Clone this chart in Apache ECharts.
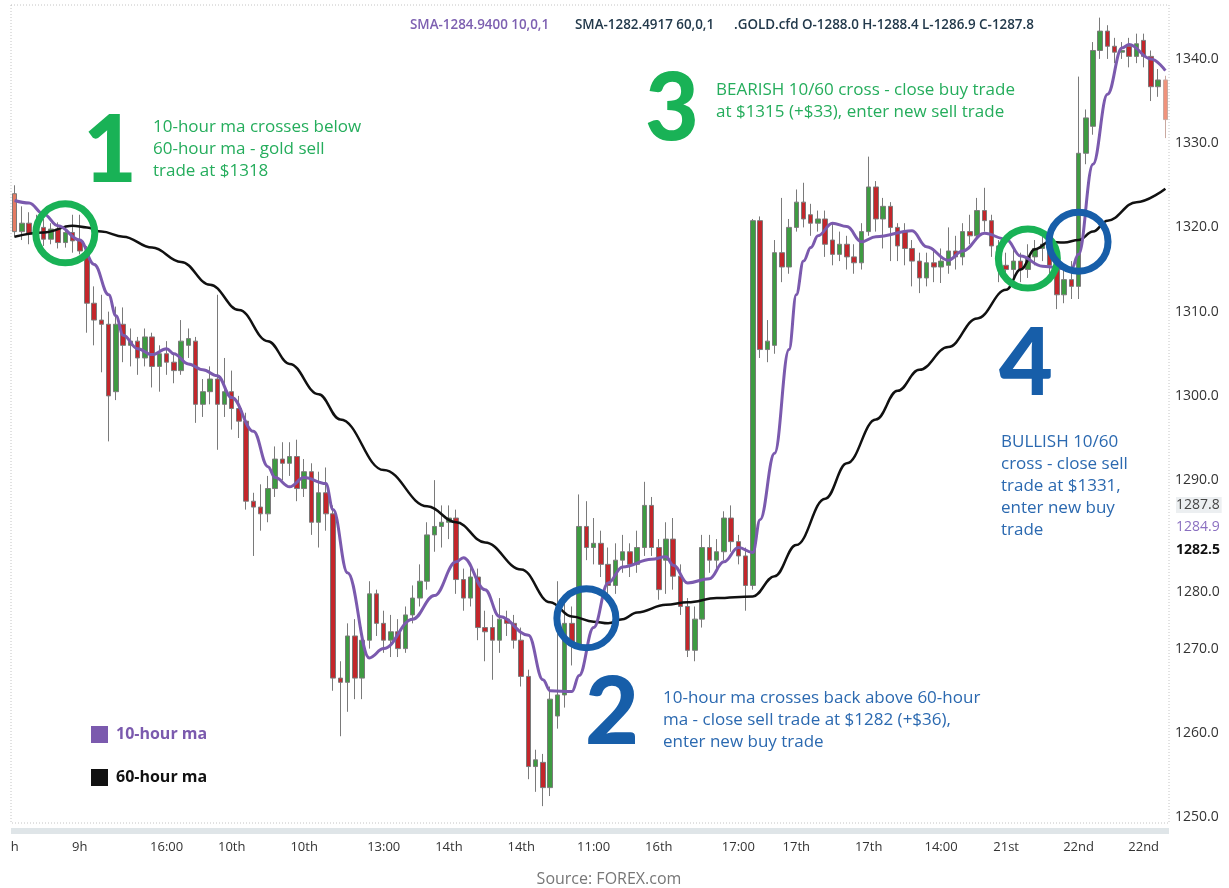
<!DOCTYPE html>
<html lang="en">
<head>
    <meta charset="UTF-8">
    <title>Gold 10/60 hour moving average crosses</title>
    <script src="https://cdn.jsdelivr.net/npm/echarts@6.0.0/dist/echarts.min.js"></script>
    <style>
        body { margin: 0; background: #fff; }
        #main { width: 1229px; height: 888px; }
    </style>
</head>
<body>
<div id="main"></div>
<script>
    // hourly gold candles
    var opens = [
        1324.0, 1319.5, 1320.5, 1319.2, 1320.0, 1318.6, 1319.8, 1318.2, 1319.4, 1318.4,
        1317.2, 1311.0, 1309.0, 1308.5, 1300.5, 1308.5, 1306.0, 1306.5, 1304.5, 1307.0,
        1303.5, 1305.0, 1304.0, 1303.0, 1306.0, 1306.5, 1299.0, 1300.5, 1302.0, 1299.0,
        1300.5, 1298.5, 1297.0, 1287.5, 1286.8, 1286.0, 1289.0, 1292.5, 1292.0, 1292.8,
        1289.0, 1291.0, 1285.0, 1288.5, 1286.0, 1266.5, 1266.0, 1271.5, 1266.5, 1271.0,
        1276.5, 1273.0, 1271.0, 1272.0, 1270.0, 1274.0, 1276.0, 1278.0, 1283.5, 1284.5,
        1285.0, 1285.5, 1278.2, 1276.0, 1278.5, 1272.5, 1272.5, 1271.0, 1273.5, 1273.0,
        1271.0, 1266.7, 1256.0, 1256.5, 1253.5, 1262.0, 1264.5, 1273.0, 1270.5, 1284.5,
        1282.0, 1282.5, 1280.0, 1277.5, 1280.5, 1281.5, 1280.0, 1282.0, 1287.0, 1282.0,
        1280.5, 1283.0, 1278.6, 1275.0, 1269.8, 1273.5, 1282.0, 1280.5, 1281.5, 1285.5,
        1282.7, 1281.0, 1277.5, 1320.8, 1305.5, 1306.0, 1317.0, 1315.3, 1320.0, 1323.0,
        1321.5, 1320.5, 1321.0, 1318.5, 1316.8, 1318.0, 1316.5, 1315.8, 1319.5, 1324.8,
        1321.0, 1322.5, 1320.0, 1319.5, 1317.5, 1316.0, 1314.0, 1315.8, 1315.3, 1315.5,
        1317.2, 1316.5, 1319.5, 1319.0, 1322.0, 1320.8, 1317.8, 1315.5, 1315.0, 1316.0,
        1315.0, 1316.5, 1317.5, 1318.0, 1315.5, 1312.0, 1313.8, 1313.0, 1328.8, 1332.0,
        1341.0, 1343.3, 1341.5, 1340.8, 1341.5, 1340.3, 1342.2, 1340.3, 1336.7, 1337.5
    ];
    var closes = [
        1319.5, 1320.5, 1319.2, 1320.0, 1318.6, 1319.8, 1318.2, 1319.4, 1318.4, 1317.2,
        1311.0, 1309.0, 1308.5, 1300.0, 1308.5, 1306.0, 1306.5, 1304.5, 1307.0, 1303.5,
        1305.0, 1304.0, 1303.0, 1306.5, 1306.8, 1299.0, 1300.5, 1302.0, 1299.0, 1300.5,
        1298.5, 1297.0, 1287.5, 1286.8, 1286.0, 1289.0, 1292.5, 1292.0, 1292.8, 1289.0,
        1291.0, 1285.0, 1288.5, 1286.0, 1266.5, 1266.0, 1271.5, 1266.5, 1271.0, 1276.5,
        1273.0, 1271.0, 1272.0, 1270.0, 1274.0, 1276.0, 1278.0, 1283.5, 1284.5, 1285.0,
        1285.5, 1278.2, 1276.0, 1278.5, 1272.5, 1272.0, 1271.0, 1273.5, 1273.0, 1271.0,
        1266.7, 1256.0, 1256.8, 1253.5, 1264.0, 1264.5, 1273.0, 1270.5, 1284.5, 1282.0,
        1282.5, 1280.0, 1277.5, 1280.5, 1281.5, 1280.0, 1282.0, 1287.0, 1282.0, 1277.0,
        1283.0, 1278.6, 1275.0, 1269.8, 1273.5, 1282.0, 1280.5, 1281.5, 1285.5, 1282.7,
        1281.0, 1277.5, 1320.8, 1305.5, 1306.5, 1317.0, 1315.3, 1320.0, 1323.0, 1321.0,
        1320.5, 1321.0, 1318.0, 1316.8, 1318.0, 1316.5, 1315.8, 1319.5, 1324.8, 1321.0,
        1322.5, 1320.0, 1317.8, 1317.5, 1316.0, 1314.0, 1315.8, 1315.3, 1316.0, 1317.2,
        1316.5, 1319.5, 1319.0, 1322.0, 1320.8, 1317.8, 1315.5, 1315.0, 1316.0, 1315.0,
        1316.5, 1317.5, 1318.0, 1315.5, 1312.0, 1313.8, 1313.0, 1328.8, 1333.0, 1341.0,
        1343.3, 1341.5, 1340.8, 1341.0, 1340.3, 1341.8, 1340.3, 1336.7, 1337.5, 1332.8
    ];
    var lows = [
        1318.8, 1318.5, 1318.0, 1318.5, 1317.8, 1318.0, 1317.5, 1317.6, 1317.0, 1316.8,
        1307.5, 1306.0, 1302.8, 1294.6, 1299.5, 1304.0, 1303.5, 1302.5, 1303.5, 1301.0,
        1300.5, 1302.5, 1301.5, 1302.5, 1304.5, 1296.8, 1297.5, 1299.0, 1293.6, 1297.5,
        1296.0, 1295.0, 1286.5, 1281.0, 1284.0, 1285.0, 1288.0, 1290.0, 1290.5, 1287.5,
        1288.0, 1283.5, 1282.0, 1284.0, 1265.0, 1259.6, 1262.5, 1264.0, 1264.0, 1270.0,
        1271.5, 1269.5, 1269.0, 1269.0, 1269.5, 1273.0, 1275.0, 1277.0, 1281.5, 1282.0,
        1283.0, 1276.5, 1274.5, 1275.0, 1271.0, 1268.5, 1266.3, 1269.5, 1271.5, 1270.0,
        1265.5, 1254.5, 1253.0, 1251.3, 1252.5, 1260.5, 1263.0, 1268.0, 1270.0, 1280.5,
        1280.0, 1278.5, 1276.5, 1276.5, 1279.0, 1278.5, 1279.0, 1281.0, 1281.0, 1275.8,
        1276.5, 1277.0, 1274.0, 1269.0, 1268.5, 1272.5, 1279.0, 1279.5, 1280.5, 1281.5,
        1280.0, 1274.5, 1277.0, 1304.5, 1304.0, 1305.0, 1313.5, 1314.5, 1319.5, 1320.0,
        1319.0, 1319.5, 1316.5, 1315.5, 1316.0, 1315.0, 1314.5, 1315.0, 1319.0, 1319.5,
        1317.5, 1316.0, 1316.0, 1315.5, 1313.0, 1312.2, 1313.0, 1313.5, 1313.4, 1314.5,
        1315.0, 1315.5, 1318.0, 1318.5, 1319.5, 1316.5, 1313.5, 1313.5, 1314.0, 1313.5,
        1314.0, 1315.5, 1316.0, 1314.5, 1310.3, 1311.0, 1311.5, 1311.5, 1327.5, 1331.0,
        1340.0, 1340.0, 1339.5, 1340.0, 1339.0, 1339.5, 1339.0, 1335.0, 1335.5, 1330.6
    ];
    var highs = [
        1325.0, 1322.5, 1321.8, 1321.5, 1321.0, 1320.5, 1320.6, 1320.2, 1321.5, 1321.5,
        1317.8, 1313.0, 1312.0, 1310.0, 1310.6, 1310.5, 1308.0, 1307.0, 1308.0, 1307.5,
        1306.0, 1306.5, 1305.0, 1309.0, 1308.0, 1307.0, 1302.0, 1303.5, 1312.0, 1304.5,
        1303.0, 1300.0, 1298.0, 1288.5, 1289.5, 1290.5, 1294.0, 1294.5, 1294.5, 1294.8,
        1292.5, 1292.0, 1291.0, 1291.5, 1287.0, 1268.5, 1273.0, 1273.5, 1272.5, 1278.0,
        1277.0, 1274.5, 1274.0, 1273.5, 1275.0, 1277.5, 1280.0, 1285.0, 1290.0, 1287.0,
        1287.0, 1286.5, 1279.5, 1280.0, 1279.5, 1274.5, 1274.0, 1276.0, 1274.5, 1274.0,
        1272.5, 1267.5, 1258.0, 1257.5, 1265.5, 1278.0, 1276.0, 1275.0, 1288.3, 1287.5,
        1285.5, 1284.0, 1282.0, 1282.5, 1283.5, 1282.5, 1284.0, 1289.8, 1288.0, 1283.0,
        1285.0, 1285.5, 1280.0, 1276.0, 1275.0, 1283.5, 1283.5, 1283.0, 1286.3, 1287.0,
        1283.5, 1282.0, 1321.0, 1321.3, 1309.0, 1318.5, 1323.5, 1321.0, 1324.5, 1325.3,
        1322.8, 1322.0, 1322.0, 1320.5, 1319.5, 1319.0, 1318.0, 1320.5, 1328.4, 1325.5,
        1323.5, 1323.0, 1320.5, 1320.5, 1318.5, 1317.0, 1317.0, 1317.5, 1317.5, 1320.0,
        1319.0, 1320.5, 1321.5, 1323.5, 1324.7, 1321.5, 1318.5, 1317.0, 1317.5, 1317.0,
        1318.0, 1318.5, 1319.0, 1319.0, 1316.0, 1315.0, 1316.0, 1337.9, 1334.0, 1342.0,
        1344.9, 1344.0, 1342.5, 1342.0, 1342.5, 1343.0, 1343.0, 1341.0, 1338.8, 1338.0
    ];

    // moving averages as [candle index, price]
    var ma10 = [
        [0, 1323.2], [2, 1322.9], [4, 1321.6], [6, 1320.2], [9, 1318.5], [11, 1315.6], [13, 1312.0],
        [14, 1309.5], [15, 1307.2], [17, 1305.6], [19, 1304.9], [21, 1305.6], [22, 1305.0], [24, 1303.8],
        [26, 1303.1], [28, 1302.4], [30, 1299.8], [33, 1295.8], [35, 1291.6], [36, 1290.3], [38, 1289.2],
        [40, 1290.3], [43, 1289.6], [44, 1286.5], [46, 1279.0], [49, 1268.9], [51, 1270.0], [55, 1273.5],
        [58, 1276.3], [61, 1280.3], [62, 1280.8], [65, 1277.0], [67, 1273.8], [71, 1271.6], [73, 1266.3],
        [74, 1265.0], [77, 1264.9], [78, 1266.8], [80, 1272.5], [82, 1277.8], [84, 1279.7], [88, 1280.6],
        [90, 1280.9], [91, 1279.9], [93, 1277.8], [96, 1278.3], [98, 1280.3], [100, 1282.0], [102, 1281.4],
        [103, 1285.3], [105, 1293.2], [107, 1305.5], [108, 1312.0], [109, 1316.0], [110, 1317.6], [111, 1319.0],
        [113, 1320.5], [115, 1320.1], [117, 1318.3], [119, 1318.9], [124, 1319.6], [126, 1317.7], [129, 1316.1],
        [131, 1317.2], [134, 1319.3], [137, 1318.6], [139, 1316.6], [142, 1315.4], [146, 1315.0], [147, 1316.8],
        [149, 1327.5], [151, 1335.8], [153, 1341.3], [154, 1341.7], [157, 1340.0], [159, 1338.6]
    ];
    var ma60 = [
        [0, 1318.9], [4, 1319.4], [8, 1320.2], [10, 1320.0], [12, 1319.5], [15, 1318.9], [19, 1317.6],
        [23, 1315.9], [27, 1313.2], [31, 1310.2], [35, 1306.5], [38, 1303.8], [42, 1300.2], [45, 1297.2],
        [51, 1291.2], [57, 1286.9], [61, 1285.0], [65, 1282.6], [70, 1279.4], [74, 1275.5], [77, 1273.8],
        [80, 1273.2], [82, 1273.0], [84, 1273.5], [86, 1274.3], [90, 1275.2], [93, 1275.5], [97, 1276.0],
        [102, 1276.2], [105, 1278.6], [108, 1282.3], [112, 1287.8], [115, 1292.0], [119, 1297.2], [122, 1300.6],
        [125, 1303.1], [129, 1305.8], [133, 1309.2], [137, 1312.6], [139, 1315.0], [141, 1317.4], [143, 1318.3],
        [145, 1318.2], [147, 1318.5], [149, 1319.5], [151, 1320.8], [155, 1323.0], [159, 1324.6]
    ];

    // cross markers
    var sellCross = [[7, 1319.3], [140, 1316.3]];
    var buyCross = [[79, 1273.6], [147, 1318.3]];

    var tickIdx = [0, 9, 21, 30, 40, 51, 60, 70, 80, 89, 100, 108, 118, 128, 137, 147, 156];
    var tickText = ['h', '9h', '16:00', '10th', '10th', '13:00', '14th', '14th', '11:00', '16th',
        '17:00', '17th', '17th', '14:00', '21st', '22nd', '22nd'];
    var priceTicks = [1250, 1260, 1270, 1290, 1300, 1310, 1320, 1330, 1340];

    var GREEN = '#19b256', BLUE = '#175ea9', PURPLE = '#7b5aae';
    var FONT = "'Open Sans', Lato, sans-serif";

    var cats = opens.map(function (v, i) { return String(i); });
    var candles = opens.map(function (o, i) {
        return [o, closes[i], lows[i], highs[i]];
    });
    // first and last bars are shaded lighter in the source
    candles[0] = { value: candles[0], itemStyle: { color0: '#e57b63' } };
    candles[159] = { value: candles[159], itemStyle: { color0: '#f0937c', borderColor0: '#c9a9a0' } };

    function note(x, y, text, color) {
        return {
            type: 'text', x: x, y: y, silent: true,
            style: { text: text, fill: color, font: '17px ' + FONT, lineHeight: 22, verticalAlign: 'top' }
        };
    }
    function bigNum(x, y, text, color) {
        return {
            type: 'text', x: x, y: y, silent: true,
            style: { text: text, fill: color, font: '900 93px Lato, sans-serif', align: 'center', verticalAlign: 'middle' }
        };
    }
    function sideLabel(y, text, color, weight, bg) {
        return {
            type: 'text', x: 1176, y: y, silent: true,
            style: {
                text: text, fill: color, font: (weight || 'normal') + ' 14px ' + FONT,
                verticalAlign: 'middle', backgroundColor: bg || 'transparent', padding: [1, 2, 1, 0]
            }
        };
    }

    var myChart = echarts.init(document.getElementById('main'));

    var option = {
        animation: false,
        backgroundColor: '#fff',
        grid: { left: 11, right: 60, top: 5, bottom: 65 },
        legend: {
            orient: 'vertical',
            left: 91, top: 726,
            padding: 0,
            itemWidth: 17, itemHeight: 17, itemGap: 26,
            icon: 'rect',
            selectedMode: false,
            textStyle: { fontFamily: FONT, fontSize: 16, fontWeight: 'bold', padding: [0, 0, 0, 3] },
            data: [
                { name: '10-hour ma', textStyle: { color: PURPLE } },
                { name: '60-hour ma', textStyle: { color: '#111' } }
            ]
        },
        xAxis: {
            type: 'category',
            data: cats,
            axisLine: { show: false },
            axisTick: { show: false },
            splitLine: { show: false },
            axisLabel: {
                interval: 0,
                margin: 18,
                color: '#333',
                fontFamily: FONT,
                fontSize: 13,
                formatter: function (v) {
                    var k = tickIdx.indexOf(+v);
                    return k >= 0 ? tickText[k] : '';
                }
            }
        },
        yAxis: {
            type: 'value',
            position: 'right',
            min: 1249.3,
            max: 1346.4,
            axisLine: { show: false },
            axisTick: { show: false },
            splitLine: { show: false },
            axisLabel: {
                customValues: priceTicks,
                margin: 6,
                color: '#333',
                fontFamily: FONT,
                fontSize: 14,
                formatter: function (v) { return v.toFixed(1); }
            }
        },
        series: [
            {
                name: 'GOLD',
                type: 'candlestick',
                data: candles,
                barWidth: 5,
                z: 2,
                itemStyle: {
                    color: '#3e9b42',
                    color0: '#c3262b',
                    borderColor: '#7a7a7a',
                    borderColor0: '#7a7a7a',
                    borderWidth: 1
                }
            },
            {
                name: '60-hour ma',
                type: 'line',
                data: ma60,
                symbol: 'none',
                smooth: 0.4,
                smoothMonotone: 'x',
                z: 3,
                color: '#111',
                lineStyle: { color: '#111', width: 2.5 }
            },
            {
                name: '10-hour ma',
                type: 'line',
                data: ma10,
                symbol: 'none',
                smooth: 0.4,
                smoothMonotone: 'x',
                z: 4,
                color: PURPLE,
                lineStyle: { color: PURPLE, width: 3 }
            },
            {
                name: 'sell cross',
                type: 'scatter',
                data: sellCross,
                symbol: 'circle',
                symbolSize: 59,
                silent: true,
                z: 5,
                itemStyle: { color: 'rgba(0,0,0,0)', borderColor: GREEN, borderWidth: 7, opacity: 1 }
            },
            {
                name: 'buy cross',
                type: 'scatter',
                data: buyCross,
                symbol: 'circle',
                symbolSize: 59,
                silent: true,
                z: 5,
                itemStyle: { color: 'rgba(0,0,0,0)', borderColor: BLUE, borderWidth: 7, opacity: 1 }
            }
        ],
        graphic: [
            // dotted frame and the scroll strip below the plot
            {
                type: 'rect', silent: true, z: -1,
                shape: { x: 11, y: 5, width: 1158, height: 818 },
                style: { fill: 'none', stroke: '#c4c4c4', lineWidth: 1, lineDash: [1, 2] }
            },
            {
                type: 'rect', silent: true,
                shape: { x: 11, y: 828, width: 1158, height: 6 },
                style: { fill: '#dfe5e8' }
            },
            // header readout
            {
                type: 'text', x: 410, y: 25, silent: true,
                style: { text: 'SMA-1284.9400 10,0,1', fill: '#7d60b1', font: '600 13.4px ' + FONT, verticalAlign: 'middle' }
            },
            {
                type: 'text', x: 575, y: 25, silent: true,
                style: { text: 'SMA-1282.4917 60,0,1', fill: '#22394b', font: '600 13.4px ' + FONT, verticalAlign: 'middle' }
            },
            {
                type: 'text', x: 734, y: 25, silent: true,
                style: { text: '.GOLD.cfd O-1288.0 H-1288.4 L-1286.9 C-1287.8', fill: '#22394b', font: '600 13.4px ' + FONT, verticalAlign: 'middle' }
            },
            // right-hand price flags
            sideLabel(505, '1287.8', '#444', 'normal', '#eceff1'),
            sideLabel(527, '1284.9', '#8a6fc0'),
            sideLabel(550, '1282.5', '#111', 'bold'),
            sideLabel(592, '1280.0', '#333'),
            // numbered notes
            bigNum(110, 152, '1', GREEN),
            note(153, 116, '10-hour ma crosses below\n60-hour ma - gold sell\ntrade at $1318', '#25ad5c'),
            bigNum(672, 110, '3', GREEN),
            note(716, 79, 'BEARISH 10/60 cross - close buy trade\nat $1315 (+$33), enter new sell trade', '#25ad5c'),
            bigNum(612, 714, '2', BLUE),
            note(663, 687, '10-hour ma crosses back above 60-hour\nma - close sell trade at $1282 (+$36),\nenter new buy trade', '#2b69b0'),
            bigNum(1026, 365, '4', BLUE),
            note(1001, 431, 'BULLISH 10/60\ncross - close sell\ntrade at $1331,\nenter new buy\ntrade', '#2b69b0'),
            {
                type: 'text', x: 609, y: 879, silent: true,
                style: { text: 'Source: FOREX.com', fill: '#777', font: '16px ' + FONT, align: 'center', verticalAlign: 'middle' }
            }
        ]
    };

    myChart.setOption(option);
</script>
</body>
</html>
